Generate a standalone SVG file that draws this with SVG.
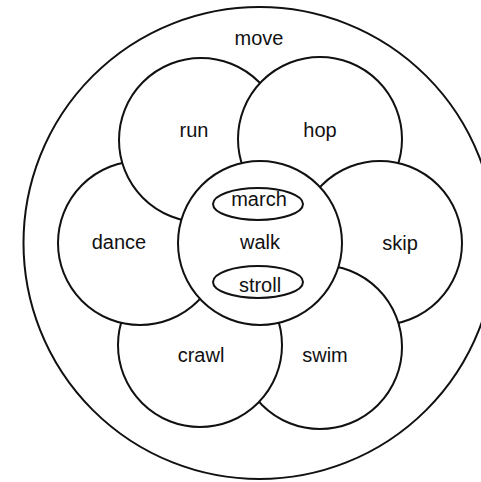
<svg xmlns="http://www.w3.org/2000/svg" width="481" height="482" viewBox="0 0 481 482">
  <style>
    .c { fill: #fff; stroke: #111; stroke-width: 2; }
    .t { font-family: "Liberation Sans", Arial, sans-serif; font-size: 20px; fill: #111; text-anchor: middle; }
  </style>
  <defs>
    <clipPath id="skipClip"><circle cx="380" cy="243" r="84"/></clipPath>
  </defs>
  <rect width="481" height="482" fill="#fff"/>
  <g id="move">
    <circle class="c" cx="259.5" cy="243" r="236"/>
    <text class="t" x="259" y="45">move</text>
  </g>
  <g id="swim">
    <circle class="c" cx="320" cy="347" r="82"/>
    <text class="t" x="325" y="362">swim</text>
  </g>
  <g id="crawl">
    <circle class="c" cx="200" cy="345" r="82"/>
    <text class="t" x="201" y="362">crawl</text>
  </g>
  <g id="dance">
    <circle class="c" cx="140" cy="243" r="82"/>
    <text class="t" x="119" y="249">dance</text>
  </g>
  <g id="run">
    <circle class="c" cx="201" cy="140" r="82"/>
    <text class="t" x="194" y="137">run</text>
  </g>
  <g id="hop">
    <circle class="c" cx="320" cy="139" r="82"/>
    <text class="t" x="320" y="137">hop</text>
  </g>
  <g id="skip">
    <circle class="c" cx="380" cy="243" r="82"/>
    <text class="t" x="400" y="250">skip</text>
  </g>
  <g id="swim-over-skip" clip-path="url(#skipClip)">
    <circle class="c" cx="320" cy="347" r="82"/>
  </g>
  <g id="walk">
    <circle class="c" cx="260" cy="243" r="82"/>
    <text class="t" x="260" y="249">walk</text>
  </g>
  <g id="march">
    <ellipse class="c" cx="258" cy="204" rx="45" ry="16"/>
    <text class="t" x="259" y="206">march</text>
  </g>
  <g id="stroll">
    <ellipse class="c" cx="258" cy="282" rx="45" ry="16"/>
    <text class="t" x="260" y="292">stroll</text>
  </g>
  <g id="connectors"/>
</svg>
